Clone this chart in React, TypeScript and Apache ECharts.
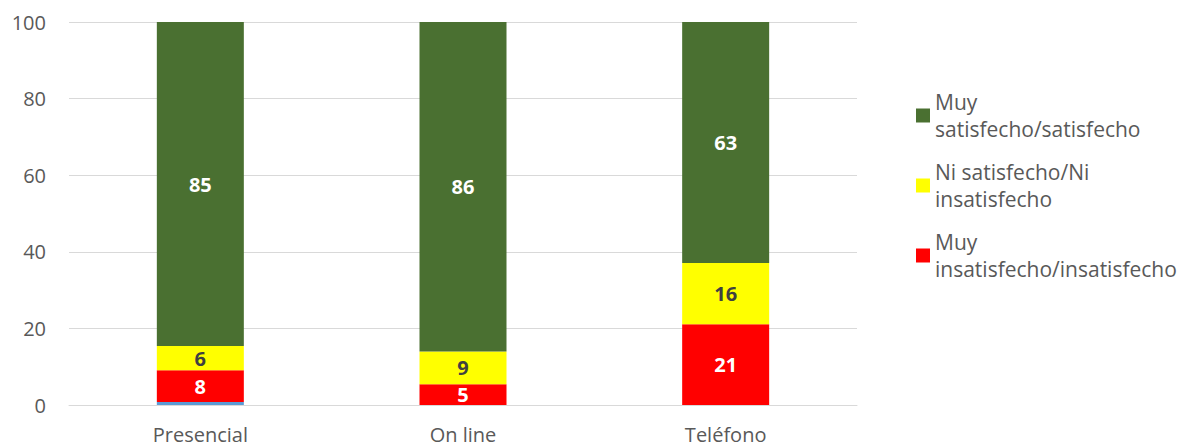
import React, { useEffect, useRef } from "react";
import * as echarts from "echarts";

const categories = ["Presencial", "On line", "Teléfono"];
const otherValues = [0.8, 0, 0];
const dissatisfied = [8.3, 5.4, 21.1];
const neutral = [6.3, 8.6, 16.0];
const satisfied = [84.6, 86.0, 62.9];
const yTicks = [0, 20, 40, 60, 80, 100];

const FONT = "'Open Sans', sans-serif";

export default function App() {
  const ref = useRef<HTMLDivElement>(null);
  useEffect(() => {
    if (!ref.current) return;
    document.body.style.margin = "0";
    const chart = echarts.init(ref.current, undefined, { renderer: "svg" });
    const labelFmt = (p: any) => String(Math.round(p.value));
    const barLabel = (color: string) => ({
      show: true,
      position: "inside" as const,
      formatter: labelFmt,
      color,
      fontFamily: FONT,
      fontWeight: "bold" as const,
      fontSize: 20,
    });
    chart.setOption({
      animation: false,
      textStyle: { fontFamily: FONT },
      grid: { left: 69, right: 326, top: 22, bottom: 41, containLabel: false },
      legend: {
        orient: "vertical",
        left: 916,
        top: 75,
        padding: 0,
        itemWidth: 14,
        itemHeight: 14,
        itemGap: -11,
        icon: "rect",
        data: [
          { name: "Muy\nsatisfecho/satisfecho" },
          { name: "Ni satisfecho/Ni\ninsatisfecho" },
          { name: "Muy\ninsatisfecho/insatisfecho" },
        ],
        textStyle: {
          fontFamily: FONT,
          fontSize: 21,
          color: "#595959",
          lineHeight: 27,
          padding: [27, 0, 0, 0],
        },
      },
      xAxis: {
        type: "category",
        data: categories,
        axisLine: { show: true, lineStyle: { color: "#d9d9d9", width: 1 } },
        axisTick: { show: false },
        axisLabel: {
          color: "#595959",
          fontSize: 20,
          lineHeight: 20,
          fontFamily: FONT,
          margin: 19,
        },
      },
      yAxis: {
        type: "value",
        min: yTicks[0],
        max: yTicks[yTicks.length - 1],
        interval: 20,
        axisLine: { show: false },
        axisTick: { show: false },
        splitLine: { lineStyle: { color: "#d9d9d9", width: 1 } },
        axisLabel: { color: "#595959", fontSize: 20, fontFamily: FONT, margin: 23 },
      },
      series: [
        {
          name: "Otro",
          type: "bar",
          stack: "total",
          barWidth: 87,
          data: otherValues,
          itemStyle: { color: "#5B9BD5" },
          label: { show: false },
        },
        {
          name: "Muy\ninsatisfecho/insatisfecho",
          type: "bar",
          stack: "total",
          barWidth: 87,
          data: dissatisfied,
          itemStyle: { color: "#FF0000" },
          label: barLabel("#FFFFFF"),
        },
        {
          name: "Ni satisfecho/Ni\ninsatisfecho",
          type: "bar",
          stack: "total",
          barWidth: 87,
          data: neutral,
          itemStyle: { color: "#FFFF00" },
          label: barLabel("#404040"),
        },
        {
          name: "Muy\nsatisfecho/satisfecho",
          type: "bar",
          stack: "total",
          barWidth: 87,
          data: satisfied,
          itemStyle: { color: "#4A7031" },
          label: barLabel("#FFFFFF"),
        },
      ],
    });
    return () => chart.dispose();
  }, []);
  return <div ref={ref} style={{ width: 1183, height: 446, background: "#fff" }} />;
}
